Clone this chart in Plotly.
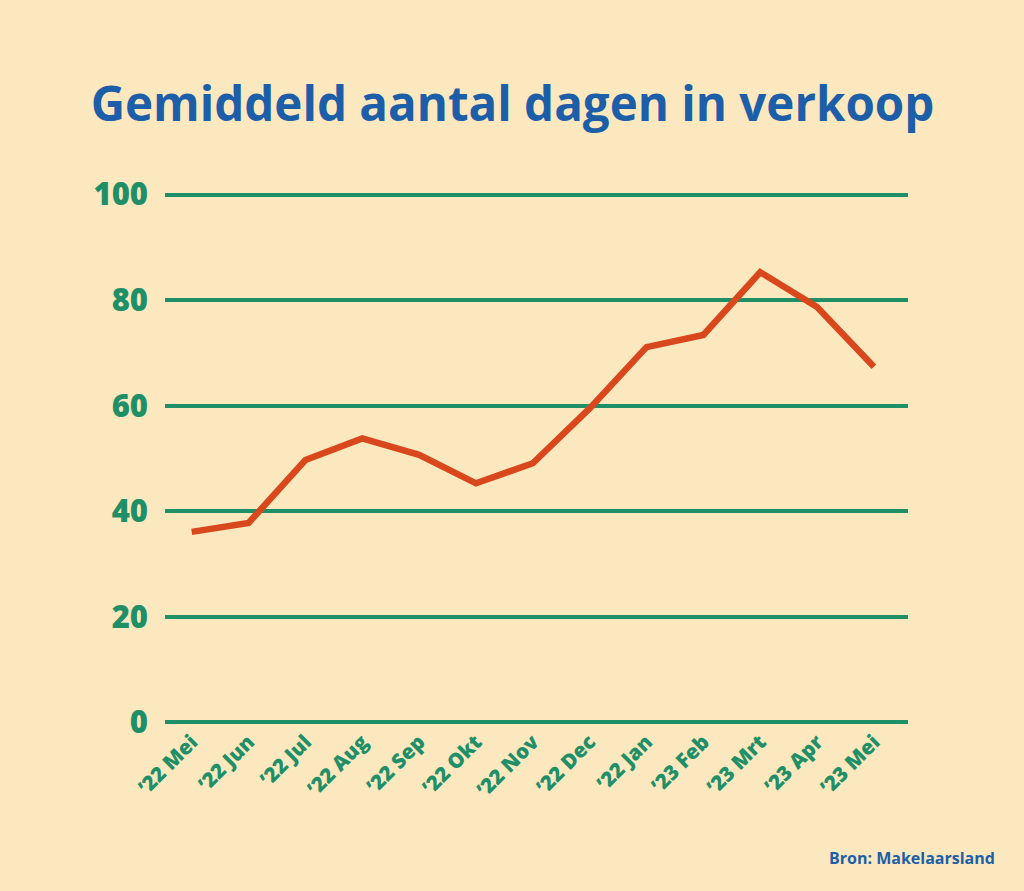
import plotly.graph_objects as go

months = ["'22 Mei", "'22 Jun", "'22 Jul", "'22 Aug", "'22 Sep", "'22 Okt", "'22 Nov",
          "'22 Dec", "'22 Jan", "'23 Feb", "'23 Mrt", "'23 Apr", "'23 Mei"]
tick_labels = ["\u201922 Mei", "\u201922 Jun", "\u201922 Jul", "\u201922 Aug", "\u201922 Sep",
               "\u201922 Okt", "\u201922 Nov", "\u201922 Dec", "\u201922 Jan", "\u201923 Feb",
               "\u201923 Mrt", "\u201923 Apr", "\u201923 Mei"]
days = [36.1, 37.8, 49.7, 53.8, 50.7, 45.3, 49.1, 59.5, 71.1, 73.4, 85.3, 78.7, 67.4]
y_ticks = [0, 20, 40, 60, 80, 100]

BG = "#fce8bf"
GREEN = "#1f8f68"
BLUE = "#1d5ea8"
ORANGE = "#d9481c"
FONT = "Open Sans"

x_idx = list(range(len(months)))

W, H = 1024, 891
L, R, T, B = 165, 116, 192.4, 166.4

fig = go.Figure()
fig.add_trace(go.Scatter(
    x=x_idx, y=days, mode="lines",
    line=dict(color=ORANGE, width=6.5, shape="linear"),
    hoverinfo="y", showlegend=False, cliponaxis=False,
))

fig.update_layout(
    width=W, height=H,
    paper_bgcolor=BG, plot_bgcolor=BG,
    margin=dict(l=L, r=R, t=T, b=B),
    title=dict(
        text="<b>Gemiddeld aantal dagen in verkoop</b>",
        x=512.5 / W, xanchor="center", xref="container",
        y=1 - 104 / H, yanchor="middle", yref="container",
        font=dict(family=FONT, size=47.5, color=BLUE, weight=800),
    ),
    xaxis=dict(
        tickmode="array", tickvals=x_idx, ticktext=tick_labels,
        range=[-0.47, 12.6], showgrid=False, zeroline=False, showline=False,
        tickangle=-45, ticks="", ticklen=0,
        tickfont=dict(family=FONT, size=20.5, color=GREEN, weight=800),
    ),
    yaxis=dict(
        range=[-0.5, 100.5], tickmode="array", tickvals=y_ticks,
        showgrid=True, gridcolor=GREEN, gridwidth=4,
        zeroline=False, showline=False, ticks="",
        ticklabelstandoff=16,
        tickfont=dict(family=FONT, size=31, color=GREEN, weight=800),
    ),
    annotations=[dict(
        text="<b>Bron: Makelaarsland</b>",
        x=(997 - L) / (W - L - R), y=(H - B - 857) / (H - T - B),
        xref="paper", yref="paper", xanchor="right", yanchor="middle",
        showarrow=False, font=dict(family=FONT, size=16, color=BLUE, weight=800),
    )],
)

fig.write_html("out.html", config={"displayModeBar": False},
               post_script="document.body.style.margin='0';")
